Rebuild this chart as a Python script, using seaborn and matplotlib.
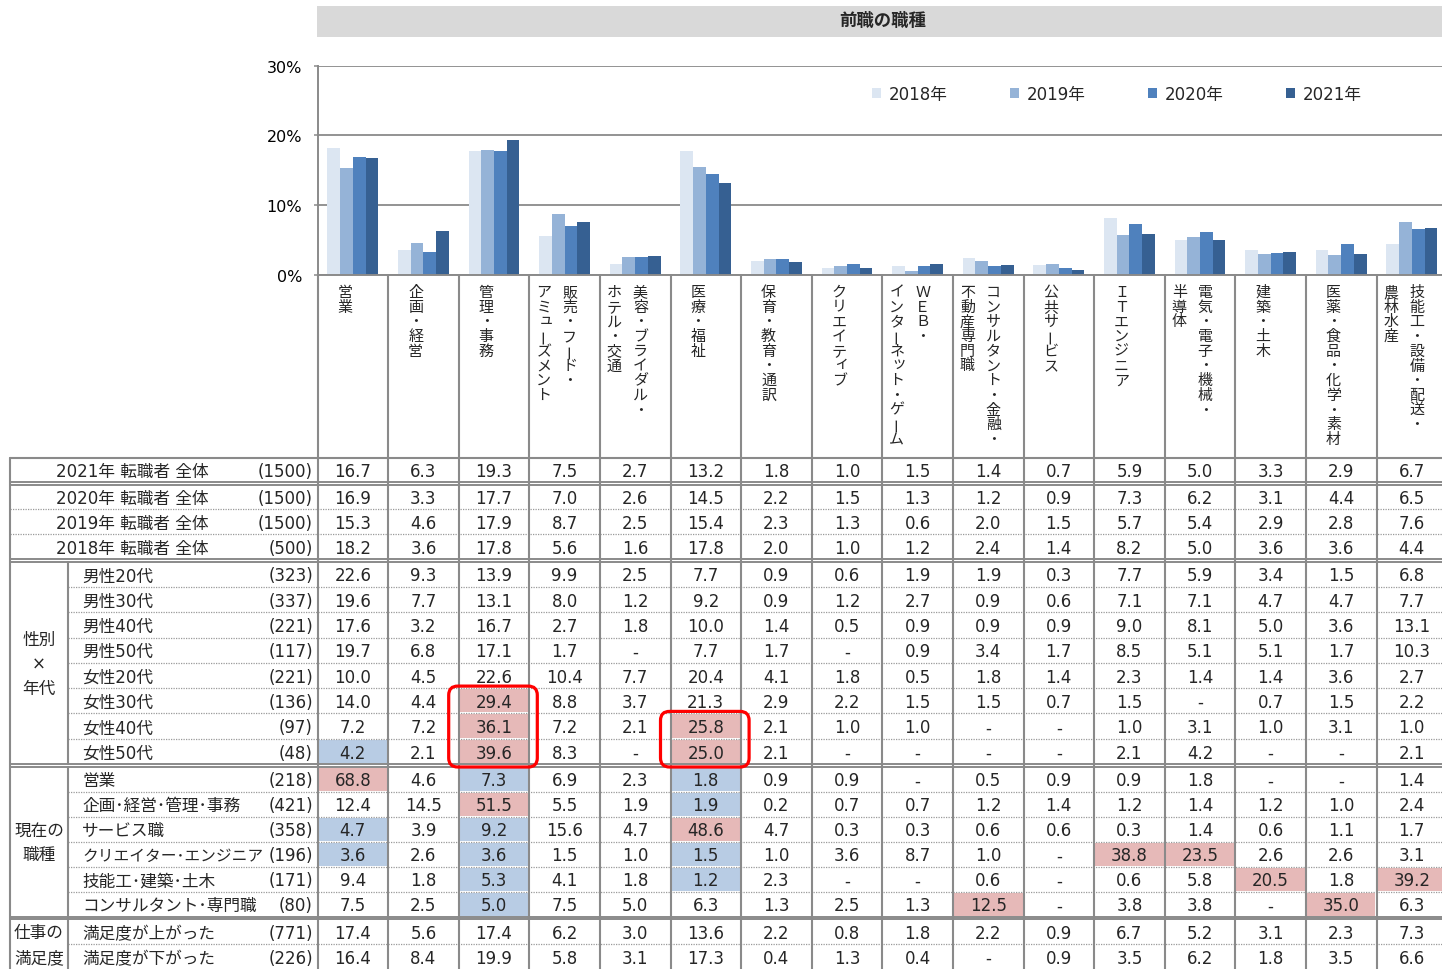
import numpy as np
import pandas as pd
import matplotlib
matplotlib.use("Agg")
import matplotlib.pyplot as plt
from matplotlib.patches import Rectangle, FancyBboxPatch
import seaborn as sns

# ---------------- data ----------------
categories = ["営業", "企画・経営", "管理・事務", "販売・フード・\nアミューズメント",
              "美容・ブライダル・\nホテル・交通", "医療・福祉", "保育・教育・通訳", "クリエイティブ",
              "ＷＥＢ・\nインターネット・ゲーム", "コンサルタント・金融・\n不動産専門職", "公共サービス",
              "ＩＴエンジニア", "電気・電子・機械・\n半導体", "建築・土木", "医薬・食品・化学・素材",
              "技能工・設備・配送・\n農林水産"]
years = ["2018年", "2019年", "2020年", "2021年"]
year_colors = ["#DCE6F2", "#95B3D7", "#4F81BD", "#366092"]

vals_2021 = [16.7, 6.3, 19.3, 7.5, 2.7, 13.2, 1.8, 1.0, 1.5, 1.4, 0.7, 5.9, 5.0, 3.3, 2.9, 6.7]
vals_2020 = [16.9, 3.3, 17.7, 7.0, 2.6, 14.5, 2.2, 1.5, 1.3, 1.2, 0.9, 7.3, 6.2, 3.1, 4.4, 6.5]
vals_2019 = [15.3, 4.6, 17.9, 8.7, 2.5, 15.4, 2.3, 1.3, 0.6, 2.0, 1.5, 5.7, 5.4, 2.9, 2.8, 7.6]
vals_2018 = [18.2, 3.6, 17.8, 5.6, 1.6, 17.8, 2.0, 1.0, 1.2, 2.4, 1.4, 8.2, 5.0, 3.6, 3.6, 4.4]
year_row_labels = ["2021年 転職者 全体", "2020年 転職者 全体", "2019年 転職者 全体", "2018年 転職者 全体"]
year_row_n = [1500, 1500, 1500, 500]

N = None
gender_age_labels = ["男性20代", "男性30代", "男性40代", "男性50代", "女性20代", "女性30代", "女性40代", "女性50代"]
gender_age_n = [323, 337, 221, 117, 221, 136, 97, 48]
gender_age_vals = [
    [22.6, 9.3, 13.9, 9.9, 2.5, 7.7, 0.9, 0.6, 1.9, 1.9, 0.3, 7.7, 5.9, 3.4, 1.5, 6.8],
    [19.6, 7.7, 13.1, 8.0, 1.2, 9.2, 0.9, 1.2, 2.7, 0.9, 0.6, 7.1, 7.1, 4.7, 4.7, 7.7],
    [17.6, 3.2, 16.7, 2.7, 1.8, 10.0, 1.4, 0.5, 0.9, 0.9, 0.9, 9.0, 8.1, 5.0, 3.6, 13.1],
    [19.7, 6.8, 17.1, 1.7, N, 7.7, 1.7, N, 0.9, 3.4, 1.7, 8.5, 5.1, 5.1, 1.7, 10.3],
    [10.0, 4.5, 22.6, 10.4, 7.7, 20.4, 4.1, 1.8, 0.5, 1.8, 1.4, 2.3, 1.4, 1.4, 3.6, 2.7],
    [14.0, 4.4, 29.4, 8.8, 3.7, 21.3, 2.9, 2.2, 1.5, 1.5, 0.7, 1.5, N, 0.7, 1.5, 2.2],
    [7.2, 7.2, 36.1, 7.2, 2.1, 25.8, 2.1, 1.0, 1.0, N, N, 1.0, 3.1, 1.0, 3.1, 1.0],
    [4.2, 2.1, 39.6, 8.3, N, 25.0, 2.1, N, N, N, N, 2.1, 4.2, N, N, 2.1],
]
job_labels = ["営業", "企画･経営･管理･事務", "サービス職", "クリエイター･エンジニア", "技能工･建築･土木", "コンサルタント･専門職"]
job_n = [218, 421, 358, 196, 171, 80]
job_vals = [
    [68.8, 4.6, 7.3, 6.9, 2.3, 1.8, 0.9, 0.9, N, 0.5, 0.9, 0.9, 1.8, N, N, 1.4],
    [12.4, 14.5, 51.5, 5.5, 1.9, 1.9, 0.2, 0.7, 0.7, 1.2, 1.4, 1.2, 1.4, 1.2, 1.0, 2.4],
    [4.7, 3.9, 9.2, 15.6, 4.7, 48.6, 4.7, 0.3, 0.3, 0.6, 0.6, 0.3, 1.4, 0.6, 1.1, 1.7],
    [3.6, 2.6, 3.6, 1.5, 1.0, 1.5, 1.0, 3.6, 8.7, 1.0, N, 38.8, 23.5, 2.6, 2.6, 3.1],
    [9.4, 1.8, 5.3, 4.1, 1.8, 1.2, 2.3, N, N, 0.6, N, 0.6, 5.8, 20.5, 1.8, 39.2],
    [7.5, 2.5, 5.0, 7.5, 5.0, 6.3, 1.3, 2.5, 1.3, 12.5, N, 3.8, 3.8, N, 35.0, 6.3],
]
satisfaction_labels = ["満足度が上がった", "満足度が下がった"]
satisfaction_n = [771, 226]
satisfaction_vals = [
    [17.4, 5.6, 17.4, 6.2, 3.0, 13.6, 2.2, 0.8, 1.8, 2.2, 0.9, 6.7, 5.2, 3.1, 2.3, 7.3],
    [16.4, 8.4, 19.9, 5.8, 3.1, 17.3, 0.4, 1.3, 0.4, N, 0.9, 3.5, 6.2, 1.8, 3.5, 6.6],
]
group_titles = [None, None, "性別\n×\n年代", "現在の\n職種", "仕事の\n満足度"]

highlight_pink = [("女性30代", 2), ("女性40代", 2), ("女性50代", 2), ("女性40代", 5), ("女性50代", 5),
                  ("営業", 0), ("企画･経営･管理･事務", 2), ("サービス職", 5),
                  ("クリエイター･エンジニア", 11), ("クリエイター･エンジニア", 12),
                  ("技能工･建築･土木", 13), ("技能工･建築･土木", 15),
                  ("コンサルタント･専門職", 9), ("コンサルタント･専門職", 14)]
highlight_blue = [("女性50代", 0), ("営業", 2), ("営業", 5), ("企画･経営･管理･事務", 5),
                  ("サービス職", 0), ("サービス職", 2), ("クリエイター･エンジニア", 0),
                  ("クリエイター･エンジニア", 2), ("クリエイター･エンジニア", 5),
                  ("技能工･建築･土木", 2), ("技能工･建築･土木", 5), ("コンサルタント･専門職", 2)]
circled = [("女性30代", "女性50代", 2), ("女性40代", "女性50代", 5)]

# ---------------- style ----------------
sns.set_style("white")
plt.rcParams["font.family"] = ["DejaVu Sans", "Noto Sans CJK JP"]
W, H = 1442, 970
fig = plt.figure(figsize=(W / 100, H / 100), dpi=100)
renderer = fig.canvas.get_renderer()
LINE = "#8A8A8A"

# ---------------- bar chart ----------------
X0, COLW = 317.5, 70.6
Y0, Y30 = 275.7, 66.7
ax = fig.add_axes([X0 / W, 1 - Y0 / H, (16 * COLW) / W, (Y0 - Y30) / H])
df = pd.DataFrame({
    "cat": categories * 4,
    "year": np.repeat(years, len(categories)),
    "val": vals_2018 + vals_2019 + vals_2020 + vals_2021,
})
sns.barplot(data=df, x="cat", y="val", hue="year", order=categories, hue_order=years,
            palette=year_colors, saturation=1, width=0.72, gap=0, errorbar=None,
            linewidth=0, ax=ax)
ax.set_xlim(-0.5, 15.5)
ax.set_ylim(0, 30)
ax.set_yticks([0, 10, 20, 30])
ax.set_yticklabels(["0%", "10%", "20%", "30%"], fontsize=11.5, color="black")
ax.set_xticks([])
ax.set_xlabel("")
ax.set_ylabel("")
ax.yaxis.grid(True, color=LINE, lw=1.3)
ax.set_axisbelow(True)
ax.tick_params(axis="y", length=3.2, width=1.1, color=LINE, pad=8, left=True)
for s in ["top", "right"]:
    ax.spines[s].set_visible(False)
for s in ["left", "bottom"]:
    ax.spines[s].set_color(LINE)
    ax.spines[s].set_linewidth(1.4)
sns.move_legend(ax, "center left", bbox_to_anchor=(872 / W, 1 - 95 / H),
                bbox_transform=fig.transFigure, ncol=4, title=None, frameon=False,
                fontsize=12, handlelength=0.55, handleheight=0.6, handletextpad=0.45,
                columnspacing=3.75, borderpad=0, borderaxespad=0)

# ---------------- overlay (table + labels) ----------------
ov = fig.add_axes([0, 0, 1, 1])
ov.set_xlim(0, W)
ov.set_ylim(H, 0)
ov.axis("off")

# header band
ov.add_patch(Rectangle((317, 7), W - 317, 30.5, color="#D9D9D9", lw=0))
ov.text(883, 21, "前職の職種", ha="center", va="center", fontsize=12.5, fontweight="bold")

# vertical category labels
def vtext(x, y0, s, pitch=14.7, fs=10.8):
    for j, ch in enumerate(s):
        dx = dy = 0
        rot = 0
        if ch in "ー":
            rot = 90
        if ch in "ァィゥェォャュョッ":
            dx, dy = 2.5, -2.5
        ov.text(x + dx, y0 + j * pitch + dy, ch, ha="center", va="center",
                fontsize=fs, rotation=rot, rotation_mode="anchor")

for i, cat in enumerate(categories):
    left = X0 + COLW * i
    lines = cat.split("\n")
    c = left + 27.5
    n = len(lines)
    for k, ln in enumerate(lines):
        x = c + (n - 1) / 2 * 26 - k * 26
        vtext(x, 292.5, ln)

# rows layout
sections = [
    dict(labels=year_row_labels[:1], n=year_row_n[:1], vals=[vals_2021], top=459.0, h=24.0, title=group_titles[0]),
    dict(labels=year_row_labels[1:], n=year_row_n[1:], vals=[vals_2020, vals_2019, vals_2018], top=485.6, h=24.8, title=group_titles[1]),
    dict(labels=gender_age_labels, n=gender_age_n, vals=gender_age_vals, top=562.6, h=25.3, title=group_titles[2]),
    dict(labels=job_labels, n=job_n, vals=job_vals, top=767.6, h=25.0, title=group_titles[3]),
    dict(labels=satisfaction_labels, n=satisfaction_n, vals=satisfaction_vals, top=920.2, h=25.0, title=group_titles[4]),
]
row_pos = {}
FS = 12
for si, sec in enumerate(sections):
    top, h = sec["top"], sec["h"]
    grouped = sec["title"] is not None
    for r, (lab, nn, vals) in enumerate(zip(sec["labels"], sec["n"], sec["vals"])):
        rt = top + h * r
        row_pos[lab] = (rt, h)
        yc = rt + h / 2 + 1.2
        nt = ov.text(313, yc, f"({nn})", ha="right", va="center", fontsize=FS)
        if grouped:
            t = ov.text(82, yc, lab, ha="left", va="center", fontsize=FS)
            # shrink a label that would run into the count
            n_left = nt.get_window_extent(renderer).x0
            bb = t.get_window_extent(renderer)
            avail = n_left - 6 - bb.x0
            if bb.width > avail:
                t.set_fontsize(FS * avail / bb.width)
        else:
            ov.text(132, yc, lab, ha="center", va="center", fontsize=FS)
        for ci, v in enumerate(vals):
            xc = X0 + COLW * (ci + 0.5)
            ov.text(xc, yc, "-" if v is None else f"{v:.1f}", ha="center", va="center", fontsize=FS)
        if r > 0:
            ov.plot([68 if grouped else 10, W], [rt, rt], color="#9A9A9A", lw=0.9,
                    ls=(0, (1, 1)), zorder=2)
    bottom = top + h * len(sec["labels"])
    if grouped:
        tl = sec["title"].split("\n")
        mid = top + h * len(sec["labels"]) / 2
        step = 24.5
        for k, t in enumerate(tl):
            ov.text(39, mid + (k - (len(tl) - 1) / 2) * step + 0.5, t, ha="center", va="center", fontsize=FS)
        ov.plot([68, 68], [top, bottom], color=LINE, lw=1.5, zorder=3)
    if bottom < H - 2:
        ov.plot([10, W], [bottom, bottom], color=LINE, lw=1.4, zorder=3)
        ov.plot([10, W], [bottom + 2.8, bottom + 2.8], color=LINE, lw=1.4, zorder=3)

# highlights
for (lab, ci), col in [(p, "#E6B9B8") for p in highlight_pink] + [(b, "#B8CCE4") for b in highlight_blue]:
    rt, h = row_pos[lab]
    ov.add_patch(Rectangle((X0 + COLW * ci + 1, rt + 1), COLW - 2, h - 2, color=col, lw=0, zorder=1))

# table top line + verticals
ov.plot([10, W], [459, 459], color=LINE, lw=1.5, zorder=3)
ov.plot([10, 10], [459, H], color=LINE, lw=1.5, zorder=3)
ov.plot([X0, X0], [Y0, H], color=LINE, lw=1.5, zorder=3)
for k in range(1, 16):
    x = X0 + COLW * k
    ov.plot([x, x], [Y0, H], color=LINE, lw=1.5, zorder=3)

# red rounded boxes
for (r1, r2, ci) in circled:
    t1, h1 = row_pos[r1]
    t2, h2 = row_pos[r2]
    x1 = X0 + COLW * ci - 10
    x2 = X0 + COLW * (ci + 1) + 8
    y1 = t1 - 2
    y2 = t2 + h2 + 3
    ov.add_patch(FancyBboxPatch((x1, y1), x2 - x1, y2 - y1,
                                boxstyle="round,pad=0,rounding_size=9",
                                fill=False, ec="#FF0000", lw=2.3, zorder=5))

fig.savefig("out.png", dpi=100)
